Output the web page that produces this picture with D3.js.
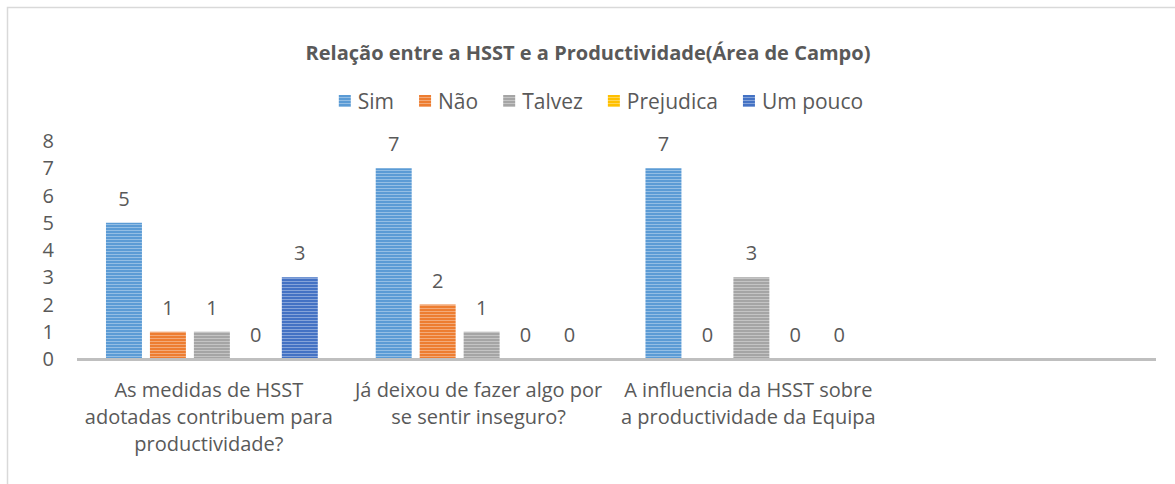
<!DOCTYPE html>
<html>
<head>
<meta charset="utf-8">
<script src="https://cdn.jsdelivr.net/npm/d3@7"></script>
<style>
  body { margin: 0; background: #fff; }
  text { font-family: "Open Sans", sans-serif; fill: #595959; }
</style>
</head>
<body>
<svg id="chart" width="1175" height="484"></svg>
<script>
// data
const categories = ["c1", "c2", "c3", "c4"];
const tickLines = [
  ["As medidas de HSST", "adotadas contribuem para", "productividade?"],
  ["Já deixou de fazer algo por", "se sentir inseguro?"],
  ["A influencia da HSST sobre", "a productividade da Equipa"],
  []
];
const seriesNames = ["Sim", "Não", "Talvez", "Prejudica", "Um pouco"];
const sim = [5, 7, 7];
const nao = [1, 2, 0];
const talvez = [1, 1, 3];
const prejudica = [0, 0, 0];
const umPouco = [3, 0, 0];
const yTicks = [0, 1, 2, 3, 4, 5, 6, 7, 8];
const colors = ["#5b9bd5", "#ed7d31", "#a5a5a5", "#ffc000", "#4472c4"];

const values = [sim, nao, talvez, prejudica, umPouco];

const svg = d3.select("#chart");

// striped fills
const defs = svg.append("defs");
colors.forEach((c, i) => {
  const p = defs.append("pattern")
    .attr("id", "stripe" + i)
    .attr("patternUnits", "userSpaceOnUse")
    .attr("width", 4)
    .attr("height", 3);
  p.append("rect").attr("width", 4).attr("height", 3).attr("fill", c);
  p.append("rect").attr("y", 2).attr("width", 4).attr("height", 1)
    .attr("fill", "#fff").attr("opacity", 0.35);
});

// outer frame
svg.append("path")
  .attr("d", "M7.5,484 V7.5 H1175")
  .attr("fill", "none")
  .attr("stroke", "#d9d9d9")
  .attr("stroke-width", 1.5);

const x0 = d3.scaleBand()
  .domain(categories)
  .range([77, 1156]);

const x1 = d3.scaleBand()
  .domain(seriesNames)
  .range([0, x0.bandwidth()])
  .paddingInner(0.1818)
  .paddingOuter(0.659);

const y = d3.scaleLinear()
  .domain([0, 8])
  .range([359, 141]);

// title
svg.append("text")
  .attr("x", 588)
  .attr("y", 60)
  .attr("text-anchor", "middle")
  .attr("font-size", 20)
  .attr("font-weight", "bold")
  .text("Relação entre a HSST e a Productividade(Área de Campo)");

// legend
const legend = svg.append("g");
let lx = 0;
seriesNames.forEach((s, i) => {
  const g = legend.append("g").attr("transform", `translate(${lx},0)`);
  g.append("rect")
    .attr("x", 0).attr("y", -12)
    .attr("width", 12).attr("height", 12)
    .attr("fill", `url(#stripe${i})`);
  const t = g.append("text")
    .attr("x", 19).attr("y", 0)
    .attr("dy", "0.1em")
    .attr("font-size", 21)
    .text(s);
  lx += 19 + t.node().getComputedTextLength() + 25;
});
lx -= 25;
legend.attr("transform", `translate(${601 - lx / 2},107)`);

// y axis labels
svg.append("g")
  .selectAll("text")
  .data(yTicks)
  .join("text")
    .attr("x", 54)
    .attr("y", d => y(d))
    .attr("dy", "0.35em")
    .attr("text-anchor", "end")
    .attr("font-size", 20)
    .text(d => d);

// bars
const groups = svg.append("g")
  .selectAll("g")
  .data(categories.slice(0, 3))
  .join("g")
    .attr("transform", d => `translate(${x0(d)},0)`);

groups.selectAll("rect")
  .data((d, ci) => seriesNames.map((s, si) => ({ s, si, v: values[si][ci] })))
  .join("rect")
    .attr("x", d => x1(d.s))
    .attr("y", d => y(d.v))
    .attr("width", x1.bandwidth())
    .attr("height", d => y(0) - y(d.v))
    .attr("fill", d => `url(#stripe${d.si})`);

groups.selectAll("text")
  .data((d, ci) => seriesNames.map((s, si) => ({ s, si, v: values[si][ci] })))
  .join("text")
    .attr("x", d => x1(d.s) + x1.bandwidth() / 2)
    .attr("y", d => y(d.v) - 17)
    .attr("text-anchor", "middle")
    .attr("font-size", 20)
    .text(d => d.v);

// x axis line
svg.append("line")
  .attr("x1", 77).attr("x2", 1156)
  .attr("y1", y(0) + 0.5).attr("y2", y(0) + 0.5)
  .attr("stroke", "#bfbfbf")
  .attr("stroke-width", 3);

// category labels
svg.append("g")
  .selectAll("text")
  .data(categories)
  .join("text")
    .attr("text-anchor", "middle")
    .attr("font-size", 20)
    .each(function (d, i) {
      const cx = x0(d) + x0.bandwidth() / 2 - 3;
      d3.select(this).selectAll("tspan")
        .data(tickLines[i])
        .join("tspan")
          .attr("x", cx)
          .attr("y", (l, j) => 397 + j * 27)
          .text(l => l);
    });
</script>
</body>
</html>
